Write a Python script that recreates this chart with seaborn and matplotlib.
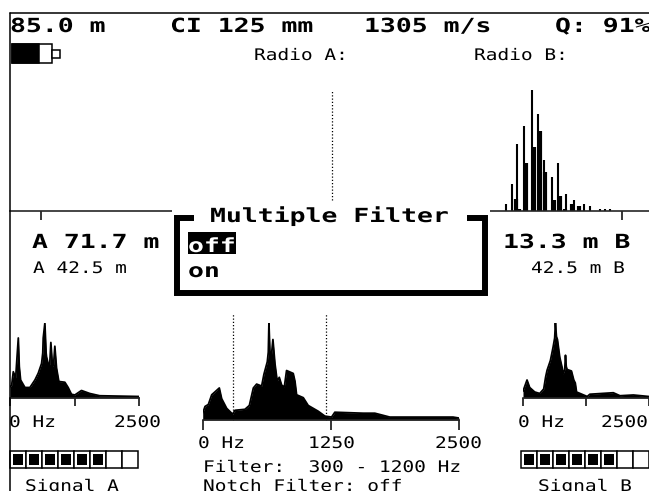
import pandas as pd
import seaborn as sns
import matplotlib.pyplot as plt
import matplotlib.patheffects as pe
from matplotlib.patches import Rectangle
from matplotlib.transforms import Affine2D

W, H = 649, 491

# spectrum of signal A
a_hz = [0, 32, 64, 110, 129, 161, 180, 206, 290, 386, 483, 547, 612, 635, 644, 676, 700, 708, 753, 770, 792, 824, 845, 869, 902, 947, 1063, 1127, 1191, 1256, 1385, 1546, 1739, 2500]
a_amp = [15, 17, 35, 27, 47, 80, 42, 24, 14, 14, 24, 33, 46, 60, 80, 100, 60, 55, 42, 45, 74, 42, 45, 69, 40, 22, 21, 14, 5, 4, 10, 6, 3, 2]

# spectrum of the filtered signal
c_hz = [0, 23, 55, 88, 120, 162, 185, 234, 292, 315, 412, 455, 494, 526, 575, 597, 630, 640, 646, 656, 666, 685, 705, 727, 747, 770, 796, 818, 883, 900, 916, 981, 1029, 1127, 1192, 1257, 1289, 1565, 1679, 1825, 2442, 2500]
c_amp = [7, 14, 16, 26, 29, 33, 22, 12, 6, 10, 11, 15, 33, 37, 35, 47, 60, 70, 100, 70, 62, 83, 58, 40, 44, 36, 34, 51, 48, 40, 26, 23, 15, 9, 4, 3, 8, 7, 7, 3, 3, 2]

# spectrum of signal B
b_hz = [0, 80, 133, 233, 333, 412, 450, 479, 545, 599, 630, 645, 665, 685, 732, 780, 798, 830, 845, 860, 878, 964, 1010, 1040, 1065, 1277, 1330, 1796, 1929, 2195, 2500]
b_amp = [9, 24, 14, 8, 6, 12, 28, 37, 50, 68, 80, 100, 82, 78, 54, 40, 32, 38, 57, 42, 38, 36, 24, 20, 8, 2, 5, 7, 3, 4, 2]

# correlation, thin and thick bars
thin_lag = [68.0, 68.9, 69.7, 70.6, 71.8, 72.7, 73.6, 74.8, 75.6, 76.8, 78.0, 79.4, 80.3, 81.8, 82.5, 83.3]
thin_amp = [6, 22, 55, 70, 100, 80, 42, 28, 40, 14, 9, 6, 4, 2, 2, 2]
thick_lag = [69.5, 70.0, 70.9, 72.1, 73.0, 73.8, 75.0, 75.9, 76.7, 77.7, 78.7]
thick_amp = [10, 2, 40, 53, 66, 32, 9, 12, 2, 6, 4]

pipe_length = 85.0
center_pos = 42.5
filter_low, filter_high = 300, 1200
signal_a, signal_b, signal_cells = 6, 6, 8
battery = 0.68


class StretchX(pe.AbstractPathEffect):
    # the display font is much wider than any installed mono font
    def __init__(self, sx):
        self.sx = sx

    def draw_path(self, renderer, gc, tpath, affine, rgbFace=None):
        renderer.draw_path(gc, tpath, Affine2D().scale(self.sx, 1) + affine, rgbFace)


def px_axes(x0, y0, x1, y1):
    ax = fig.add_axes([x0 / W, 1 - y1 / H, (x1 - x0) / W, (y1 - y0) / H])
    ax.patch.set_alpha(0)
    sns.despine(ax=ax, left=True)
    ax.spines['bottom'].set_linewidth(1.2)
    ax.set_yticks([])
    return ax


def spectrum(ax, hz, amp, tick_len):
    df = pd.DataFrame({'hz': hz, 'amp': amp})
    sns.lineplot(data=df, x='hz', y='amp', color='black', linewidth=1.3, estimator=None, ax=ax)
    ax.fill_between(df.hz, 0, df.amp, color='black', linewidth=0)
    ax.set_xlim(0, 2500)
    ax.set_ylim(0, 100)
    ax.set_xlabel('')
    ax.set_ylabel('')
    ax.set_xticks([0, 1250, 2500], labels=[])
    ax.tick_params(axis='x', bottom=True, length=tick_len, width=1.1, color='black')


sns.set_style('white')
fig = plt.figure(figsize=(W / 100, H / 100), dpi=100)

# correlation display, x axis is the distance from sensor A
radio = px_axes(10, 90, 649, 211)
radio.vlines(thin_lag, 0, thin_amp, color='black', linewidth=1.5)
radio.vlines(thick_lag, 0, thick_amp, color='black', linewidth=3)
radio.vlines(center_pos, 9, 100, color='black', linewidth=0.9, linestyles=(0, (1, 1.6)))
px_per_m = (622 - 41) / pipe_length
radio.set_xlim((10 - 41) / px_per_m, (649 - 41) / px_per_m)
radio.set_ylim(0, 100)
radio.set_xticks([0, pipe_length], labels=[])
radio.tick_params(axis='x', bottom=True, length=6.5, width=1.1, color='black')

ax_a = px_axes(10, 323, 139, 398)
spectrum(ax_a, a_hz, a_amp, 5.5)
ax_b = px_axes(523, 323, 648.7, 398)
spectrum(ax_b, b_hz, b_amp, 5.5)
ax_c = px_axes(202.7, 323, 459, 420)
spectrum(ax_c, c_hz, c_amp, 7)
ax_c.vlines([filter_low, filter_high], 0, 110, color='black', linewidth=0.9, linestyles=(0, (1, 1.6)), clip_on=False)

# everything else sits on one overlay in screen pixels
ui = fig.add_axes([0, 0, 1, 1], zorder=5)
ui.set_xlim(0, W)
ui.set_ylim(H, 0)
ui.axis('off')
ui.patch.set_alpha(0)

ui.plot([10, W], [13, 13], color='black', lw=1.1)
ui.plot([10, 10], [13, H], color='black', lw=1.1)


def label(x, y, s, big=False, color='black'):
    size, sx, weight = (14, 1.36, 'bold') if big else (11.5, 1.22, 'normal')
    ui.text(x, y, s, fontsize=size, fontweight=weight, family='DejaVu Sans Mono', color=color,
            ha='left', va='baseline', path_effects=[StretchX(sx)], clip_on=True)


label(10, 32, '85.0 m', True)
label(170, 32, 'CI 125 mm', True)
label(364, 32, '1305 m/s', True)
label(555, 32, 'Q: 91%', True)
label(254, 60, 'Radio A:')
label(474, 60, 'Radio B:')

# battery
ui.add_patch(Rectangle((12, 44), 40, 19, fc='white', ec='black', lw=1.1))
ui.add_patch(Rectangle((12, 44), 40 * battery, 19, fc='black', ec='black', lw=1.1))
ui.add_patch(Rectangle((52, 50), 8, 8, fc='white', ec='black', lw=1.1))

label(32, 248, 'A 71.7 m', True)
label(33, 273, 'A 42.5 m')
label(503, 248, '13.3 m B', True)
label(531, 273, '42.5 m B')

# filter dialog
ui.add_patch(Rectangle((172, 205), 318, 93, fc='white', ec='none'))
ui.plot([194, 177, 177, 485, 485, 467], [218, 218, 293, 293, 218, 218], color='black', lw=4.3,
        solid_joinstyle='miter', solid_capstyle='butt')
label(210, 222, 'Multiple Filter', True)
ui.add_patch(Rectangle((188, 232), 48, 22, fc='black', ec='none'))
label(188, 252, 'off', True, color='white')
label(188, 277, 'on', True)

label(9, 427, '0 Hz')
label(114, 427, '2500')
label(198, 448, '0 Hz')
label(308, 448, '1250')
label(435, 448, '2500')
label(518, 427, '0 Hz')
label(601, 427, '2500')
label(203, 472, 'Filter:  300 - 1200 Hz')
label(203, 491, 'Notch Filter: off')
label(25, 491, 'Signal A')
label(538, 491, 'Signal B')


def meter(x0, filled):
    for i in range(signal_cells):
        ui.add_patch(Rectangle((x0 + i * 16, 451), 16, 17, fc='white', ec='black', lw=1.1))
        if i < filled:
            ui.add_patch(Rectangle((x0 + i * 16 + 3, 454), 10, 11, fc='black', ec='none'))


meter(10, signal_a)
meter(521, signal_b)

fig.savefig('out.png', dpi=100)
